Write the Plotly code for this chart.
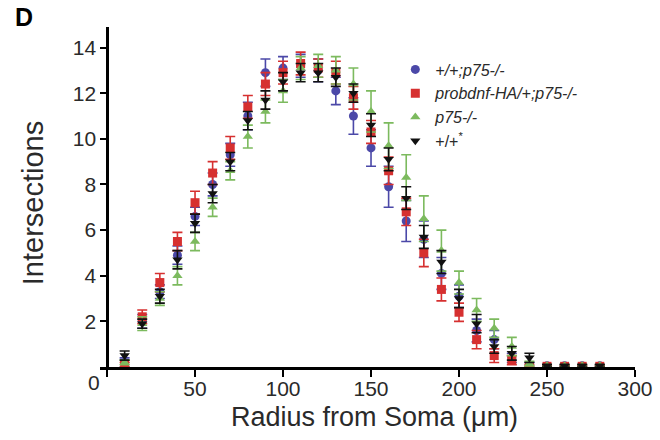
import plotly.graph_objects as go

radius = [10, 20, 30, 40, 50, 60, 70, 80, 90, 100, 110, 120, 130, 140,
          150, 160, 170, 180, 190, 200, 210, 220, 230, 240, 250, 260, 270, 280]

names = ["<i>+/+;p75-/-</i>", "<i>probdnf-HA/+;p75-/-</i>", "<i>p75-/-</i>", "+/+<sup>*</sup>"]

blue_vals = [0.2, 2.0, 3.3, 4.9, 6.6, 8.0, 9.3, 11.0, 12.9, 13.1, 13.2, 13.0, 12.1, 11.0,
             9.6, 7.9, 6.4, 5.6, 4.1, 3.1, 1.6, 1.2, 0.4, 0.1, 0.05, 0.05, 0.05, 0.05]
blue_err = [0.2, 0.3, 0.3, 0.4, 0.4, 0.5, 0.5, 0.6, 0.6, 0.5, 0.5, 0.5, 0.6, 0.8,
            0.8, 0.9, 0.9, 0.8, 0.7, 0.5, 0.5, 0.4, 0.2, 0.1, 0.05, 0.05, 0.05, 0.05]

red_vals = [0.1, 2.2, 3.7, 5.5, 7.2, 8.5, 9.6, 11.4, 12.4, 12.9, 13.3, 13.1, 12.9, 11.8,
            10.3, 8.6, 6.8, 5.0, 3.4, 2.4, 1.2, 0.5, 0.3, 0.05, 0.03, 0.03, 0.03, 0.03]
red_err = [0.1, 0.3, 0.4, 0.4, 0.5, 0.5, 0.5, 0.5, 0.5, 0.5, 0.5, 0.4, 0.5, 0.5,
           0.5, 0.6, 0.6, 0.6, 0.5, 0.4, 0.4, 0.3, 0.2, 0.05, 0.03, 0.03, 0.03, 0.03]

green_vals = [0.2, 1.9, 3.0, 4.0, 5.5, 7.0, 8.6, 10.1, 11.2, 12.1, 13.1, 13.2, 13.0, 12.4,
              11.2, 9.7, 8.3, 6.5, 5.1, 3.7, 2.5, 1.7, 0.9, 0.15, 0.05, 0.05, 0.05, 0.05]
green_err = [0.1, 0.3, 0.3, 0.4, 0.4, 0.4, 0.4, 0.5, 0.5, 0.5, 0.5, 0.5, 0.6, 0.7,
             0.9, 1.0, 1.0, 1.0, 0.9, 0.5, 0.5, 0.4, 0.4, 0.1, 0.05, 0.05, 0.05, 0.05]

black_vals = [0.5, 1.9, 3.1, 4.7, 6.3, 7.6, 9.0, 10.8, 11.7, 12.5, 12.9, 12.9, 12.7, 12.0,
              10.6, 9.1, 7.4, 5.7, 4.6, 3.0, 1.9, 0.9, 0.6, 0.4, 0.05, 0.05, 0.05, 0.05]
black_err = [0.2, 0.2, 0.3, 0.4, 0.4, 0.4, 0.4, 0.4, 0.4, 0.4, 0.4, 0.4, 0.4, 0.4,
             0.5, 0.5, 0.5, 0.5, 0.5, 0.4, 0.4, 0.3, 0.3, 0.2, 0.05, 0.05, 0.05, 0.05]

x_ticks = [0, 50, 100, 150, 200, 250, 300]
x_ticktext = ["", "50", "100", "150", "200", "250", "300"]
y_ticks = [2, 4, 6, 8, 10, 12, 14]

series = [
    (names[0], blue_vals, blue_err, "#4b48a8", "circle"),
    (names[1], red_vals, red_err, "#d63030", "square"),
    (names[2], green_vals, green_err, "#7cba5e", "triangle-up"),
    (names[3], black_vals, black_err, "#111111", "triangle-down"),
]

FONT = "Arial, Liberation Sans, sans-serif"
TXT = "#2a2a2a"

fig = go.Figure()
for name, vals, err, col, sym in series:
    fig.add_trace(go.Scatter(
        x=radius, y=vals, mode="markers", name=name,
        marker=dict(symbol=sym, size=9, color=col, line=dict(width=0)),
        error_y=dict(type="data", array=err, visible=True, color=col,
                     thickness=1.6, width=5),
    ))

fig.update_layout(
    width=660, height=440,
    margin=dict(l=100, r=25, t=27, b=73, autoexpand=False),
    paper_bgcolor="white", plot_bgcolor="white",
    font=dict(family=FONT, color=TXT),
    showlegend=True,
    legend=dict(x=0.552, y=0.925, xanchor="left", yanchor="top",
                font=dict(size=16, family=FONT, color=TXT),
                bgcolor="rgba(0,0,0,0)", tracegroupgap=0, itemwidth=30),
    xaxis=dict(range=[-4, 300], tickvals=x_ticks, ticktext=x_ticktext,
               showline=True, linecolor="black", linewidth=2.5,
               ticks="outside", ticklen=7, tickwidth=2.2, tickcolor="black",
               ticklabelstandoff=-6,
               showgrid=False, zeroline=False, automargin=False,
               tickfont=dict(size=21, family=FONT, color=TXT)),
    yaxis=dict(range=[0, 14.9], tickvals=y_ticks,
               anchor="free", position=4 / 304,
               showline=True, linecolor="black", linewidth=2.5,
               ticks="outside", ticklen=6, tickwidth=2.2, tickcolor="black",
               showgrid=False, zeroline=False, automargin=False,
               tickfont=dict(size=21, family=FONT, color=TXT)),
)

fig.add_annotation(text="Radius from Soma (\u03bcm)", xref="paper", yref="paper",
                   x=0.514, y=-0.147, xanchor="center", yanchor="middle",
                   showarrow=False, font=dict(size=27, family=FONT, color=TXT))
fig.add_annotation(text="Intersections", xref="paper", yref="paper",
                   x=-0.125, y=0.482, xanchor="center", yanchor="middle",
                   textangle=-90, showarrow=False,
                   font=dict(size=29, family=FONT, color=TXT))
fig.add_annotation(text="0", xref="paper", yref="paper", x=0.004, y=-0.047,
                   xanchor="right", yanchor="middle", showarrow=False,
                   font=dict(size=21, family=FONT, color=TXT))
fig.add_annotation(text="<b>D</b>", xref="paper", yref="paper",
                   x=-0.162, y=1.077, xanchor="left", yanchor="top",
                   showarrow=False,
                   font=dict(size=25, family=FONT, color="black"))

fig.write_html("out.html", config={"displayModeBar": False},
               post_script="document.body.style.margin='0';")
